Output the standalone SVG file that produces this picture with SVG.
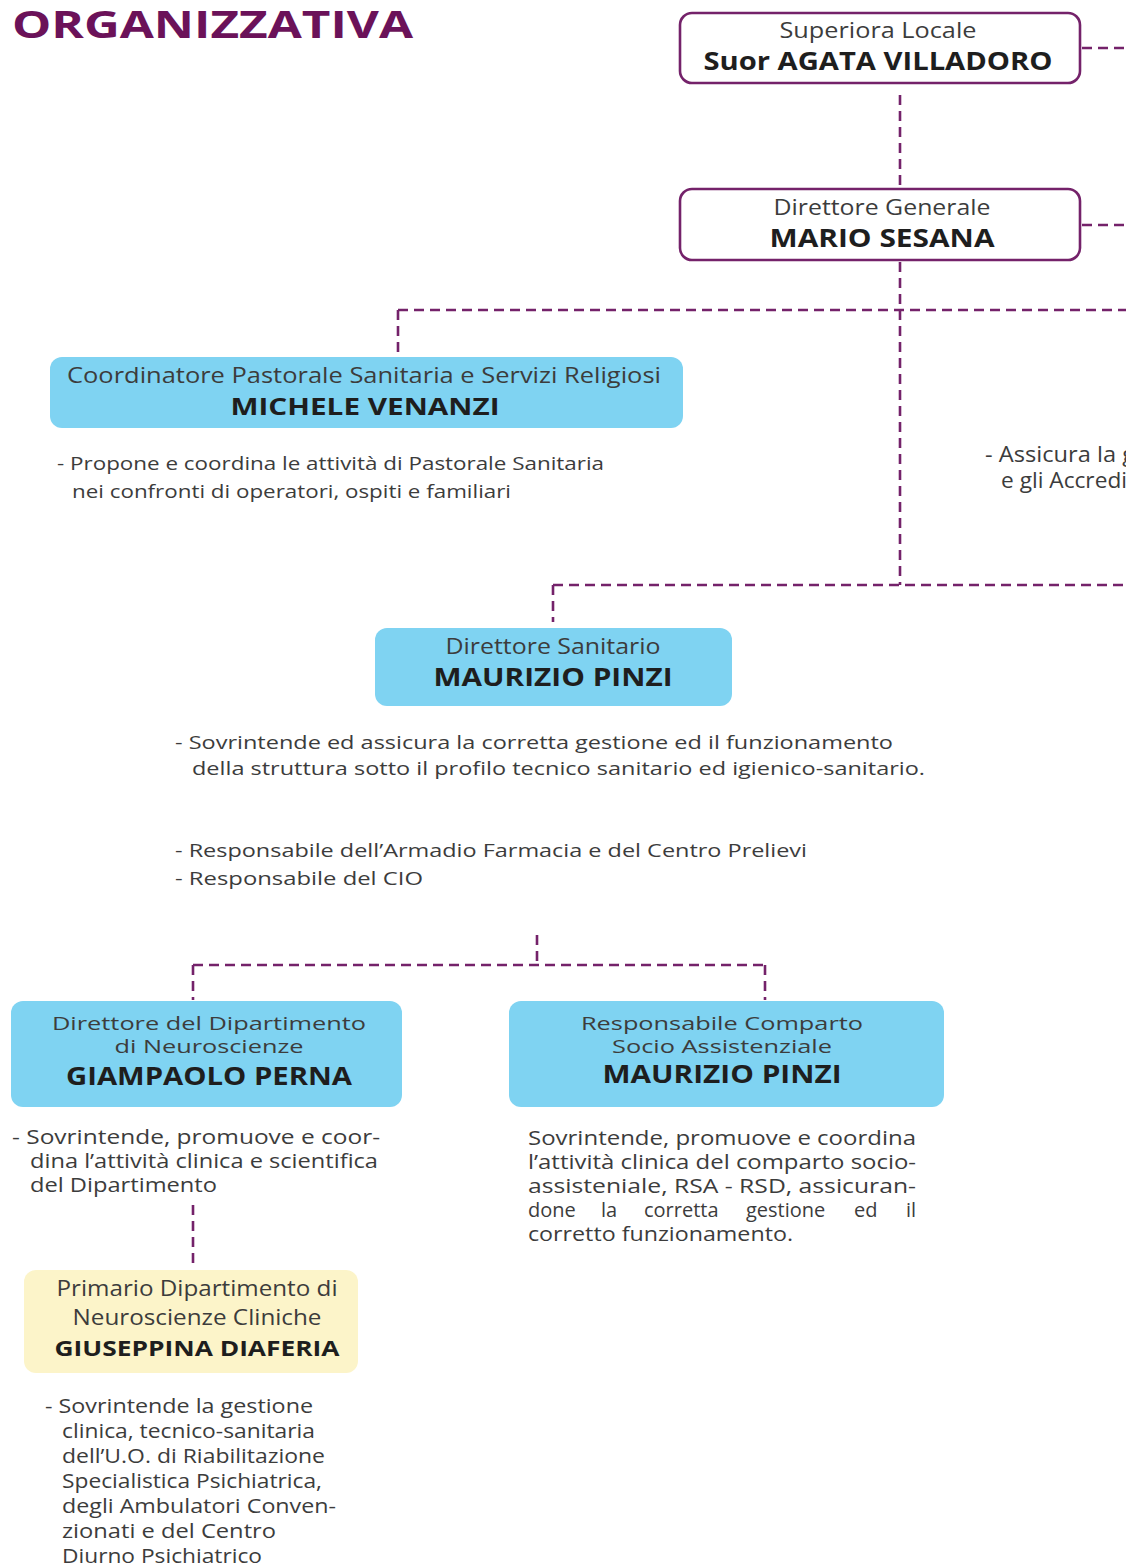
<svg xmlns="http://www.w3.org/2000/svg" width="1126" height="1567" viewBox="0 0 1126 1567">
<style>
.t{font-family:"Open Sans","Noto Sans","DejaVu Sans",sans-serif;fill:#3c3c3c}
.h{font-size:21px;text-anchor:middle}
.n{font-size:25px;font-weight:bold;fill:#1e1e1e;text-anchor:middle}
.d{font-size:19px}
.c{fill:none;stroke:#74226a;stroke-width:2.6;stroke-dasharray:10 6}
.bw{fill:#fff;stroke:#74226a;stroke-width:2.6}
.bb{fill:#7fd3f2}
.by{fill:#fcf4c9}
</style>
<rect width="1126" height="1567" fill="#fff"/>
<text class="t" x="12" y="38" font-size="38" font-weight="bold" style="fill:#6b1259;font-size:38px" textLength="401" lengthAdjust="spacingAndGlyphs">ORGANIZZATIVA</text>
<g id="connectors">
<path class="c" d="M1082 48H1126"/>
<path class="c" d="M1082 225H1126"/>
<path class="c" d="M900 95V186"/>
<path class="c" d="M900 262V585"/>
<path class="c" d="M398 310H1126"/>
<path class="c" d="M398 310V352"/>
<path class="c" d="M553 585H1126"/>
<path class="c" d="M553 585V622"/>
<path class="c" d="M537 935V965"/>
<path class="c" d="M193 965H765"/>
<path class="c" d="M193 965V1000"/>
<path class="c" d="M765 965V1000"/>
<path class="c" d="M193 1205V1268"/>
</g>
<g id="superiora">
<rect class="bw" x="680" y="13" width="400" height="70" rx="12"/>
<text class="t h" x="878" y="38" textLength="197" lengthAdjust="spacingAndGlyphs">Superiora Locale</text>
<text class="t n" x="878" y="70" textLength="349" lengthAdjust="spacingAndGlyphs">Suor AGATA VILLADORO</text>
</g>
<g id="direttore-generale">
<rect class="bw" x="680" y="189" width="400" height="71" rx="12"/>
<text class="t h" x="882" y="215" textLength="217" lengthAdjust="spacingAndGlyphs">Direttore Generale</text>
<text class="t n" x="882" y="247" textLength="225" lengthAdjust="spacingAndGlyphs">MARIO SESANA</text>
</g>
<g id="coordinatore">
<rect class="bb" x="50" y="357" width="633" height="71" rx="12"/>
<text class="t h" x="364" y="383" textLength="594" lengthAdjust="spacingAndGlyphs">Coordinatore Pastorale Sanitaria e Servizi Religiosi</text>
<text class="t n" x="365" y="415" style="font-size:23px" textLength="269" lengthAdjust="spacingAndGlyphs">MICHELE VENANZI</text>
<text class="t d" x="57" y="470" textLength="547" lengthAdjust="spacingAndGlyphs">- Propone e coordina le attività di Pastorale Sanitaria</text>
<text class="t d" x="72" y="498" textLength="439" lengthAdjust="spacingAndGlyphs">nei confronti di operatori, ospiti e familiari</text>
</g>
<g id="qualita">
<text class="t d" x="985" y="462" style="font-size:21px" textLength="150" lengthAdjust="spacingAndGlyphs">- Assicura la g</text>
<text class="t d" x="1001" y="488" style="font-size:21px" textLength="126" lengthAdjust="spacingAndGlyphs">e gli Accredi</text>
</g>
<g id="direttore-sanitario">
<rect class="bb" x="375" y="628" width="357" height="78" rx="12"/>
<text class="t h" x="553" y="654" textLength="215" lengthAdjust="spacingAndGlyphs">Direttore Sanitario</text>
<text class="t n" x="553" y="686" textLength="239" lengthAdjust="spacingAndGlyphs">MAURIZIO PINZI</text>
<text class="t d" x="175" y="749" textLength="718" lengthAdjust="spacingAndGlyphs">- Sovrintende ed assicura la corretta gestione ed il funzionamento</text>
<text class="t d" x="192" y="775" textLength="733" lengthAdjust="spacingAndGlyphs">della struttura sotto il profilo tecnico sanitario ed igienico-sanitario.</text>
<text class="t d" x="175" y="857" textLength="632" lengthAdjust="spacingAndGlyphs">- Responsabile dell’Armadio Farmacia e del Centro Prelievi</text>
<text class="t d" x="175" y="885" textLength="248" lengthAdjust="spacingAndGlyphs">- Responsabile del CIO</text>
</g>
<g id="direttore-dipartimento">
<rect class="bb" x="11" y="1001" width="391" height="106" rx="12"/>
<text class="t h" x="209" y="1030" style="font-size:19px" textLength="314" lengthAdjust="spacingAndGlyphs">Direttore del Dipartimento</text>
<text class="t h" x="209" y="1053" style="font-size:19px" textLength="189" lengthAdjust="spacingAndGlyphs">di Neuroscienze</text>
<text class="t n" x="209" y="1085" textLength="286" lengthAdjust="spacingAndGlyphs">GIAMPAOLO PERNA</text>
<text class="t d" x="12" y="1144" style="font-size:20px" textLength="368" lengthAdjust="spacingAndGlyphs">-  Sovrintende, promuove e coor-</text>
<text class="t d" x="30" y="1168" style="font-size:20px" textLength="348" lengthAdjust="spacingAndGlyphs">dina l’attività clinica e scientifica</text>
<text class="t d" x="30" y="1192" style="font-size:20px" textLength="187" lengthAdjust="spacingAndGlyphs">del Dipartimento</text>
</g>
<g id="responsabile-comparto">
<rect class="bb" x="509" y="1001" width="435" height="106" rx="12"/>
<text class="t h" x="722" y="1030" style="font-size:19px" textLength="282" lengthAdjust="spacingAndGlyphs">Responsabile Comparto</text>
<text class="t h" x="722" y="1053" style="font-size:19px" textLength="220" lengthAdjust="spacingAndGlyphs">Socio Assistenziale</text>
<text class="t n" x="722" y="1083" textLength="239" lengthAdjust="spacingAndGlyphs">MAURIZIO PINZI</text>
<text class="t d" x="528" y="1145" style="font-size:20px" textLength="388" lengthAdjust="spacingAndGlyphs">Sovrintende, promuove e coordina</text>
<text class="t d" x="528" y="1169" style="font-size:20px" textLength="388" lengthAdjust="spacingAndGlyphs">l’attività clinica del comparto socio-</text>
<text class="t d" x="528" y="1193" style="font-size:20px" textLength="388" lengthAdjust="spacingAndGlyphs">assisteniale, RSA - RSD, assicuran-</text>
<text class="t d" y="1217" style="font-size:20px"><tspan x="528">done</tspan><tspan x="601">la</tspan><tspan x="644">corretta</tspan><tspan x="746">gestione</tspan><tspan x="854">ed</tspan><tspan x="916" text-anchor="end">il</tspan></text>
<text class="t d" x="528" y="1241" style="font-size:20px" textLength="265" lengthAdjust="spacingAndGlyphs">corretto funzionamento.</text>
</g>
<g id="primario">
<rect class="by" x="24" y="1270" width="334" height="103" rx="12"/>
<text class="t h" x="197" y="1296" textLength="281" lengthAdjust="spacingAndGlyphs">Primario Dipartimento di</text>
<text class="t h" x="197" y="1325" textLength="249" lengthAdjust="spacingAndGlyphs">Neuroscienze Cliniche</text>
<text class="t n" x="197" y="1356" style="font-size:22px" textLength="285" lengthAdjust="spacingAndGlyphs">GIUSEPPINA DIAFERIA</text>
<g class="t d" style="font-size:20px">
<text x="45" y="1413" textLength="268" lengthAdjust="spacingAndGlyphs">- Sovrintende la gestione</text>
<text x="62" y="1438" textLength="253" lengthAdjust="spacingAndGlyphs">clinica, tecnico-sanitaria</text>
<text x="62" y="1463" textLength="263" lengthAdjust="spacingAndGlyphs">dell’U.O. di Riabilitazione</text>
<text x="62" y="1488" textLength="260" lengthAdjust="spacingAndGlyphs">Specialistica Psichiatrica,</text>
<text x="62" y="1513" textLength="274" lengthAdjust="spacingAndGlyphs">degli Ambulatori Conven-</text>
<text x="62" y="1538" textLength="214" lengthAdjust="spacingAndGlyphs">zionati  e del Centro</text>
<text x="62" y="1563" textLength="200" lengthAdjust="spacingAndGlyphs">Diurno Psichiatrico</text>
</g>
</g>
</svg>
